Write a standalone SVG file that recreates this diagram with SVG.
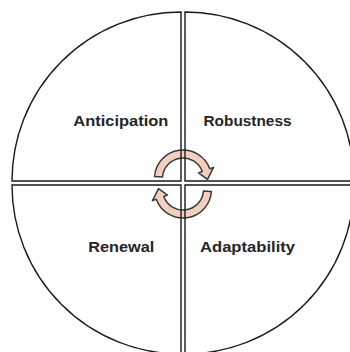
<svg xmlns="http://www.w3.org/2000/svg" width="350" height="352" viewBox="0 0 350 352">
<style>
.q{fill:none;stroke:#1a1a1a;stroke-width:1.4;stroke-linejoin:miter}
.lbl{font-family:"Liberation Sans",Arial,sans-serif;font-weight:bold;font-size:15.5px;fill:#262626;text-anchor:middle}
.arr{fill:#F2CFC1;stroke:#3a3a3a;stroke-width:1.5;stroke-linejoin:round}
</style>
<defs>
<path id="cyc" d="M154.57,176.51 A28.5,28.5 0 0 1 209.78,168.75 L213.54,167.38 L207.49,179.36 L198.51,172.86 L202.26,171.49 A20.5,20.5 0 0 0 162.55,177.07 Z"/>
</defs>
<rect width="350" height="352" fill="#ffffff"/>
<g id="connectors">
<use href="#cyc" class="arr"/>
<use href="#cyc" class="arr" transform="rotate(180 183 184)"/>
</g>
<g id="anticipation">
<path class="q" d="M181,181 L181,12 A169,169 0 0 0 12,181 Z"/>
<text class="lbl" x="120.8" y="126" textLength="95" lengthAdjust="spacingAndGlyphs">Anticipation</text>
</g>
<g id="robustness">
<path class="q" d="M185,181 L185,12 A169,169 0 0 1 354,181 Z"/>
<text class="lbl" x="247.5" y="126" textLength="88" lengthAdjust="spacingAndGlyphs">Robustness</text>
</g>
<g id="renewal">
<path class="q" d="M181,185 L12,185 A169,169 0 0 0 181,354 Z"/>
<text class="lbl" x="121.3" y="252" textLength="66" lengthAdjust="spacingAndGlyphs">Renewal</text>
</g>
<g id="adaptability">
<path class="q" d="M185,185 L354,185 A169,169 0 0 1 185,354 Z"/>
<text class="lbl" x="247.5" y="252" textLength="95" lengthAdjust="spacingAndGlyphs">Adaptability</text>
</g>
</svg>
